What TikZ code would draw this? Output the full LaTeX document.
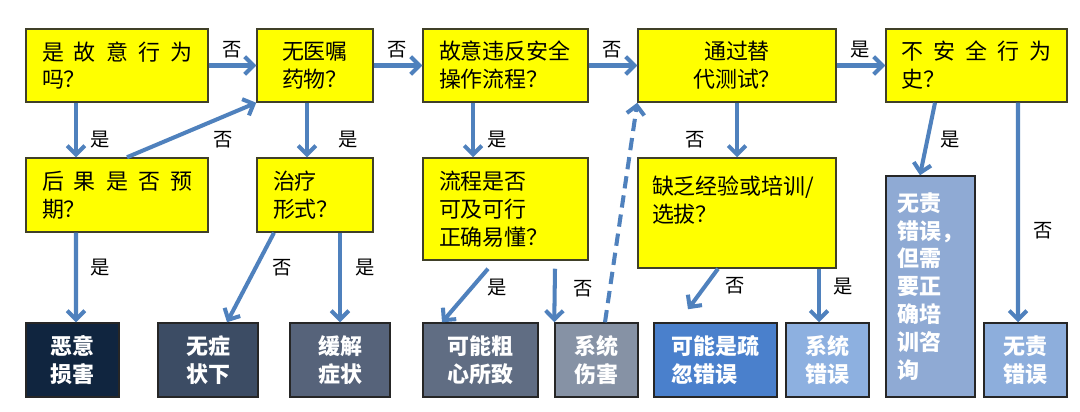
\documentclass[tikz,border=0pt]{standalone}
\usepackage{fontspec}
\setmainfont{Noto Sans CJK SC}
\usetikzlibrary{arrows.meta}

\definecolor{chartYellow}{RGB}{255,255,0}
\definecolor{chartEdge}{RGB}{64,64,40}
\definecolor{chartArrow}{RGB}{79,129,189}
\definecolor{chartDark}{RGB}{38,38,38}
\definecolor{outMalice}{RGB}{16,37,63}
\definecolor{outNoSymptom}{RGB}{60,76,100}
\definecolor{outRelief}{RGB}{86,99,122}
\definecolor{outCareless}{RGB}{96,109,131}
\definecolor{outSysHarm}{RGB}{134,146,165}
\definecolor{outNeglect}{RGB}{74,128,204}
\definecolor{outSysError}{RGB}{141,176,224}
\definecolor{outTraining}{RGB}{143,170,212}
\definecolor{outNoBlame}{RGB}{141,174,220}

\newlength\pxu
\setlength\pxu{0.02cm}

\begin{document}
\begin{tikzpicture}[x=0.02cm,y=-0.02cm,
      question/.style={draw=chartEdge, fill=chartYellow, line width=.85pt,
        font=\fontsize{12.5}{15.9}\selectfont, align=left, inner sep=0pt},
      outcome/.style={draw=chartDark, line width=.85pt, text=white,
        font=\fontsize{12.5}{15.9}\selectfont\bfseries, align=center,
        inner sep=0pt, minimum height=74\pxu},
      flow/.style={draw=chartArrow, line width=2.3pt,
        -{Straight Barb[length=5pt,width=10pt]}},
      answer/.style={font=\fontsize{11}{13}\selectfont, inner sep=0pt}]
      \useasboundingbox (0,0) rectangle (1080,412);
      \fill[white] (0,0) rectangle (1080,412);

      \node[question, text width=150\pxu, minimum width=182\pxu,
        minimum height=73\pxu] (q1) at (117,65.5)
        {\makebox[\linewidth][s]{是\hfill 故\hfill 意\hfill 行\hfill 为}\\吗？};
      \node[question, text width=66\pxu, minimum width=116\pxu,
        minimum height=73\pxu] (q2) at (315,65.5) {无医嘱\\药物？};
      \node[question, text width=133\pxu, minimum width=165\pxu,
        minimum height=73\pxu] (q3) at (505.5,65.5) {故意违反安全\\操作流程？};
      \node[question, align=center, text width=100\pxu, minimum width=198\pxu,
        minimum height=73\pxu] (q4) at (737,65.5) {通过替\\代测试？};
      \node[question, text width=150\pxu, minimum width=181\pxu,
        minimum height=73\pxu] (q5) at (976.5,65.5)
        {\makebox[\linewidth][s]{不\hfill 安\hfill 全\hfill 行\hfill 为}\\史？};

      \node[question, text width=150\pxu, minimum width=182\pxu,
        minimum height=74\pxu] (q6) at (117,195)
        {\makebox[\linewidth][s]{后\hfill 果\hfill 是\hfill 否\hfill 预}\\期？};
      \node[question, text width=84\pxu, minimum width=116\pxu,
        minimum height=74\pxu] (q7) at (315,195) {治疗\\形式？};
      \node[question, text width=133\pxu, minimum width=165\pxu,
        minimum height=102\pxu] (q8) at (505.5,209)
        {流程是否\\可及可行\\正确易懂？};
      \node[question, text width=170\pxu, minimum width=198\pxu,
        minimum height=110\pxu] (q9) at (737,213)
        {缺乏经验或培训/\\选拔？\\\mbox{}};

      \node[outcome, fill=outMalice, minimum width=93\pxu] (r1)
        at (72.5,360) {恶意\\损害};
      \node[outcome, fill=outNoSymptom, minimum width=100\pxu] (r2)
        at (208,360) {无症\\状下};
      \node[outcome, fill=outRelief, minimum width=100\pxu] (r3)
        at (340,360) {缓解\\症状};
      \node[outcome, fill=outCareless, minimum width=115\pxu] (r4)
        at (480.5,360) {可能粗\\心所致};
      \node[outcome, fill=outSysHarm, minimum width=83\pxu] (r5)
        at (596.5,360) {系统\\伤害};
      \node[outcome, fill=outNeglect, align=left, minimum width=123\pxu] (r6)
        at (715.5,360) {可能是疏\\忽错误};
      \node[outcome, fill=outSysError, minimum width=83\pxu] (r7)
        at (827.5,360) {系统\\错误};
      \node[outcome, fill=outTraining, align=left, minimum width=89\pxu,
        minimum height=221\pxu] (r8) at (930.5,286.5)
        {无责\\错误，\\但需\\要正\\确培\\训咨\\询};
      \node[outcome, fill=outNoBlame, minimum width=83\pxu] (r9)
        at (1025.5,360) {无责\\错误};

      \draw[flow] (q1.east) -- (q2.west);
      \draw[flow] (q2.east) -- (q3.west);
      \draw[flow] (q3.east) -- (q4.west);
      \draw[flow] (q4.east) -- (q5.west);

      \draw[flow] ([xshift=-41\pxu]q1.south) -- ([xshift=-41\pxu]q6.north);
      \draw[flow] ([xshift=10\pxu]q6.north) -- (q2.south west);
      \draw[flow] ([xshift=-8\pxu]q2.south) -- ([xshift=-8\pxu]q7.north);
      \draw[flow] ([xshift=-32.5\pxu]q3.south) -- ([xshift=-32.5\pxu]q8.north);
      \draw[flow] (q4.south) -- (q9.north);
      \draw[flow] ([xshift=-41.5\pxu]q5.south) -- ([xshift=-10.5\pxu]r8.north);
      \draw[flow] ([xshift=41.5\pxu]q5.south) -- ([xshift=-7.5\pxu]r9.north);

      \draw[flow] ([xshift=-41\pxu]q6.south) -- ([xshift=3.5\pxu]r1.north);
      \draw[flow] ([xshift=-41\pxu]q7.south) -- ([xshift=19\pxu]r2.north);
      \draw[flow] ([xshift=25\pxu]q7.south) -- (r3.north);
      \draw[flow] ([xshift=-17.5\pxu,yshift=-8\pxu]q8.south)
        -- ([xshift=-38.5\pxu]r4.north);
      \draw[flow] ([xshift=49.5\pxu,yshift=-8\pxu]q8.south) -- (r5.north west);
      \draw[flow, dash pattern=on 7pt off 4pt]
        ([xshift=8.5\pxu]r5.north) -- (q4.south west);
      \draw[flow] ([xshift=-19\pxu]q9.south)
        -- ([xshift=-27.5\pxu,yshift=13\pxu]r6.north);
      \draw[flow] ([xshift=82\pxu]q9.south) -- ([xshift=-8.5\pxu]r7.north);

      \foreach \x/\y/\t [count=\i] in {232/50/否, 397/50/否, 612/50/否,
          860/50/是, 100/140/是, 223/140/否, 348/140/是, 497/140/是,
          695/140/否, 950/140/是, 1043/231/否, 100/268/是, 282/268/否,
          365/268/是, 497/288/是, 583/289/否, 735/286/否, 843/287/是}{
        \node[answer] (ans\i) at (\x,\y) {\t};}
    \end{tikzpicture}
\end{document}
